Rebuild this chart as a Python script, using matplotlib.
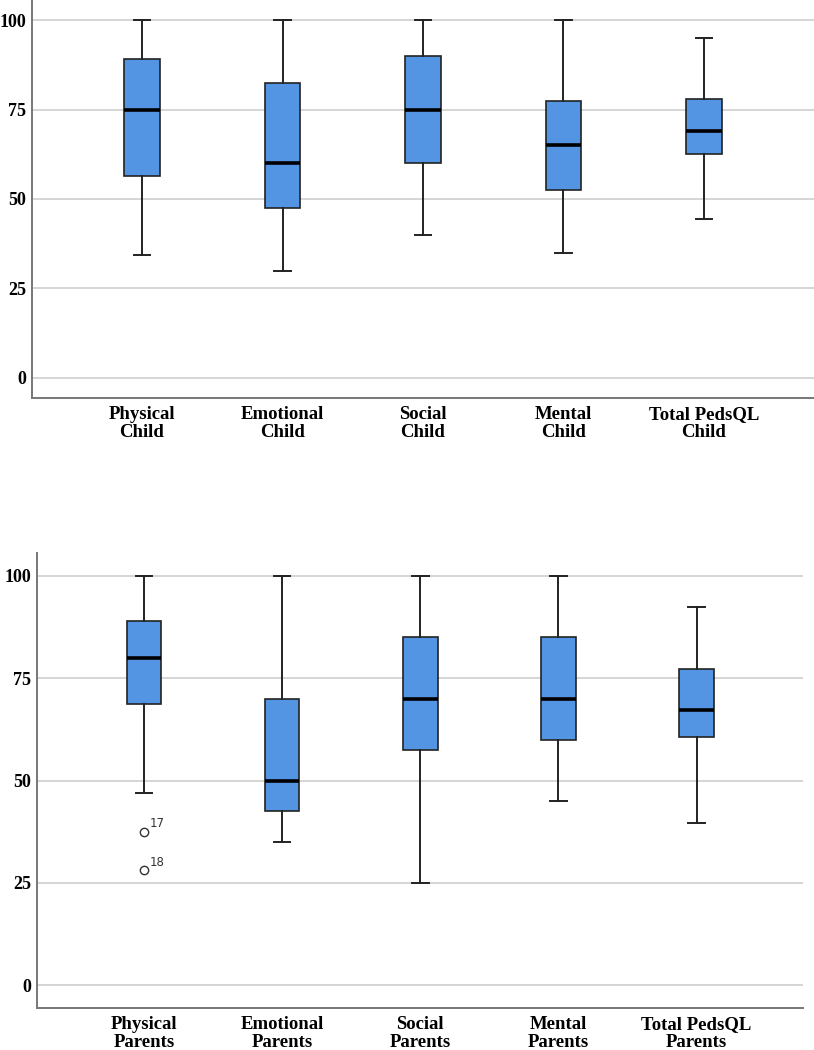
import numpy as np
import matplotlib
matplotlib.use("Agg")
import matplotlib.pyplot as plt

# five-number summaries: whisker low, Q1, median, Q3, whisker high
child_labels = ["Physical\nChild", "Emotional\nChild", "Social\nChild", "Mental\nChild", "Total PedsQL\nChild"]
child_low = [34.3, 30.0, 40.0, 35.0, 44.5]
child_q1 = [56.3, 47.5, 60.0, 52.5, 62.7]
child_med = [75.0, 60.0, 75.0, 65.0, 69.0]
child_q3 = [89.1, 82.5, 90.0, 77.5, 77.9]
child_high = [100.0, 100.0, 100.0, 100.0, 95.0]

parent_labels = ["Physical\nParents", "Emotional\nParents", "Social\nParents", "Mental\nParents", "Total PedsQL\nParents"]
parent_low = [46.9, 35.0, 25.0, 45.0, 39.5]
parent_q1 = [68.8, 42.5, 57.5, 60.0, 60.7]
parent_med = [79.9, 50.0, 70.0, 70.0, 67.2]
parent_q3 = [89.0, 70.0, 85.0, 85.0, 77.3]
parent_high = [100.0, 100.0, 100.0, 100.0, 92.5]

# outliers (value, case id) for Physical Parents
parent_outliers = [37.5, 28.1]
parent_outlier_ids = ["17", "18"]

box_color = "#5394E3"
serif = "Liberation Serif"


def make_stats(low, q1, med, q3, high, fliers=None):
    stats = []
    for i in range(len(low)):
        stats.append({
            "whislo": low[i], "q1": q1[i], "med": med[i], "q3": q3[i],
            "whishi": high[i], "fliers": fliers[i] if fliers else [],
        })
    return stats


def draw(ax, stats, labels, xlim):
    pos = np.arange(1, len(stats) + 1)
    ax.bxp(stats, positions=pos, widths=0.25, patch_artist=True, showfliers=True,
           boxprops=dict(facecolor=box_color, edgecolor="#222222", linewidth=1.2),
           medianprops=dict(color="black", linewidth=2.6),
           whiskerprops=dict(color="#222222", linewidth=1.4),
           capprops=dict(color="#222222", linewidth=1.4),
           capwidths=0.12,
           flierprops=dict(marker="o", markerfacecolor="white", markeredgecolor="#333333",
                           markersize=6, markeredgewidth=1.0))
    ax.set_ylim(-5.6, 105.6)
    ax.set_xlim(*xlim)
    ax.set_yticks([0, 25, 50, 75, 100])
    ax.set_xticks(pos)
    ax.set_xticklabels(labels, fontfamily=serif, fontweight="bold", fontsize=13.5,
                       linespacing=1.05)
    for t in ax.get_yticklabels():
        t.set_fontfamily(serif)
        t.set_fontweight("bold")
        t.set_fontsize(13)
    ax.yaxis.grid(True, color="#D2D2D2", linewidth=1.3)
    ax.set_axisbelow(True)
    ax.tick_params(length=0)
    ax.tick_params(axis="y", pad=4)
    ax.tick_params(axis="x", pad=6)
    for s in ["top", "right"]:
        ax.spines[s].set_visible(False)
    for s in ["left", "bottom"]:
        ax.spines[s].set_color("#777777")
        ax.spines[s].set_linewidth(1.4)


fig = plt.figure(figsize=(8.14, 10.5), dpi=100)

ax1 = fig.add_axes([32 / 814, 1 - 398 / 1050, 1 - 32 / 814, 398 / 1050])
draw(ax1, make_stats(child_low, child_q1, child_med, child_q3, child_high),
     child_labels, (0.217, 5.783))

fl = [parent_outliers, [], [], [], []]
ax2 = fig.add_axes([37 / 814, 1 - 1008 / 1050, (803 - 37) / 814, (1008 - 553) / 1050])
draw(ax2, make_stats(parent_low, parent_q1, parent_med, parent_q3, parent_high, fl),
     parent_labels, (0.226, 5.77))
for v, lab in zip(parent_outliers, parent_outlier_ids):
    ax2.annotate(lab, (1, v), xytext=(4, 3), textcoords="offset points",
                 fontsize=8.5, color="#333333", fontfamily="DejaVu Sans")

fig.savefig("out.png", dpi=100)
